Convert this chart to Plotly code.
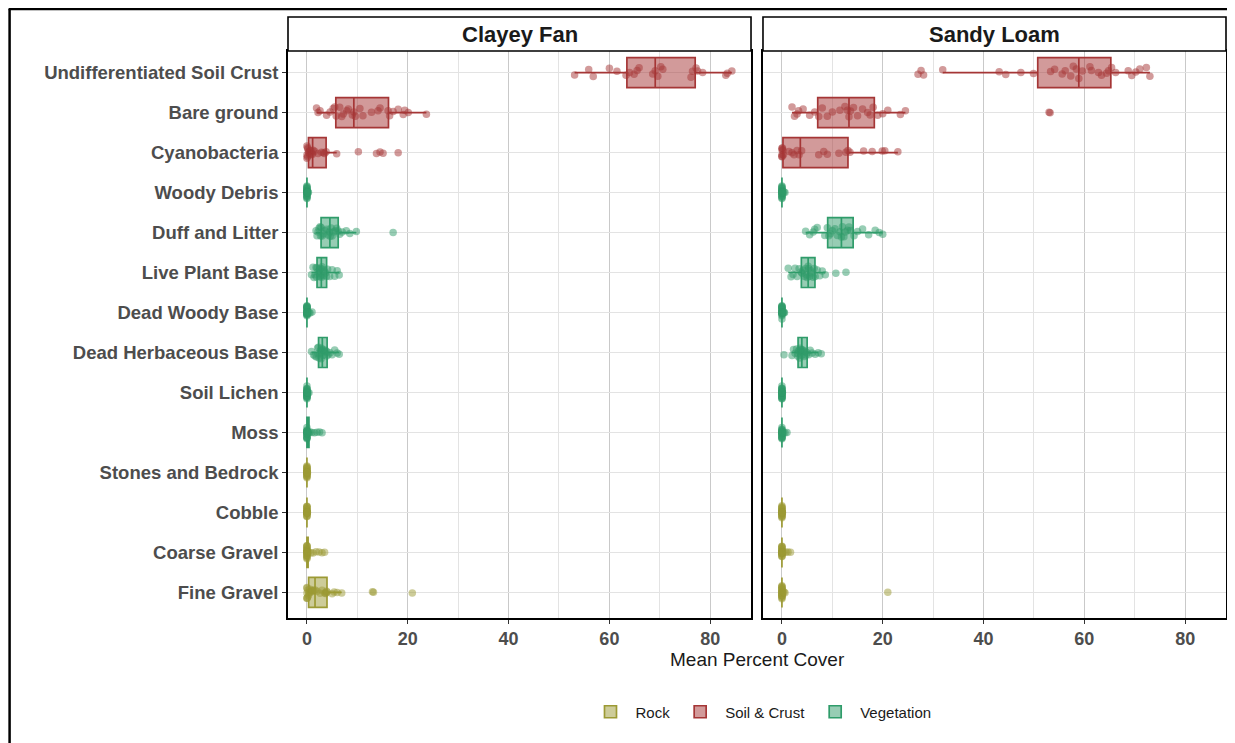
import plotly.graph_objects as go
from plotly.subplots import make_subplots

# ---------------- data ----------------
categories = [
    "Undifferentiated Soil Crust", "Bare ground", "Cyanobacteria", "Woody Debris",
    "Duff and Litter", "Live Plant Base", "Dead Woody Base", "Dead Herbaceous Base",
    "Soil Lichen", "Moss", "Stones and Bedrock", "Cobble", "Coarse Gravel", "Fine Gravel",
]
panels = ["Clayey Fan", "Sandy Loam"]
groups = ["Rock", "Soil & Crust", "Vegetation"]
category_group = {
    "Undifferentiated Soil Crust": "Soil & Crust", "Bare ground": "Soil & Crust",
    "Cyanobacteria": "Soil & Crust", "Woody Debris": "Vegetation",
    "Duff and Litter": "Vegetation", "Live Plant Base": "Vegetation",
    "Dead Woody Base": "Vegetation", "Dead Herbaceous Base": "Vegetation",
    "Soil Lichen": "Vegetation", "Moss": "Vegetation",
    "Stones and Bedrock": "Rock", "Cobble": "Rock", "Coarse Gravel": "Rock",
    "Fine Gravel": "Rock",
}

clayey_fan = {
    "Undifferentiated Soil Crust": [53.1, 55.9, 56.8, 60.0, 61.5, 63.3, 64.0, 64.9, 65.5, 65.9, 68.6, 69.1,
                                    69.6, 70.2, 70.6, 76.2, 76.5, 77.2, 77.5, 78.5, 83.1, 83.4, 84.3],
    "Bare ground": [1.9, 2.2, 2.6, 3.9, 4.6, 5.2, 5.5, 5.8, 6.5, 6.9, 7.2, 7.9, 8.2, 9.0, 9.3, 9.6,
                    10.5, 11.1, 12.8, 14.1, 14.5, 16.1, 16.4, 17.1, 18.1, 19.1, 19.4, 20.1, 23.7],
    "Cyanobacteria": [0, 0, 0, 0.1, 0.1, 0.2, 0.3, 0.4, 0.5, 0.6, 0.8, 1.0, 1.05, 1.2, 1.5, 2.2, 2.9,
                      3.3, 3.5, 3.8, 5.9, 10.2, 13.8, 14.5, 15.1, 18.1],
    "Woody Debris": [0] * 22 + [0.1, 0.2, 0.3],
    "Duff and Litter": [1.8, 2.0, 2.2, 2.4, 2.6, 2.7, 2.8, 3.0, 3.3, 3.6, 3.9, 4.2, 4.5, 4.6, 4.8, 5.0,
                        5.3, 5.6, 5.9, 6.2, 6.5, 7.0, 7.8, 8.5, 9.8, 17.1],
    "Live Plant Base": [0.9, 1.2, 1.4, 1.6, 1.8, 1.9, 2.0, 2.2, 2.4, 2.5, 2.6, 2.7, 2.8, 2.9, 3.0, 3.1,
                        3.3, 3.5, 3.7, 3.9, 4.1, 4.5, 5.0, 5.5, 6.0, 6.4],
    "Dead Woody Base": [0] * 20 + [0.2, 0.4, 0.6, 1.0],
    "Dead Herbaceous Base": [0.9, 1.3, 1.6, 1.9, 2.1, 2.2, 2.3, 2.4, 2.6, 2.7, 2.8, 2.9, 3.0, 3.1, 3.2,
                             3.3, 3.5, 3.7, 3.9, 4.0, 4.2, 4.6, 5.0, 5.5, 6.0, 6.4],
    "Soil Lichen": [0] * 22 + [0.2, 0.4],
    "Moss": [0] * 18 + [0.2, 0.4, 0.6, 1.0, 1.5, 2.0, 2.5, 3.0],
    "Stones and Bedrock": [0] * 20 + [0.1],
    "Cobble": [0] * 20 + [0.1],
    "Coarse Gravel": [0] * 20 + [0.3, 0.8, 1.2, 1.8, 2.4, 3.0, 3.5],
    "Fine Gravel": [0, 0, 0, 0, 0, 0.1, 0.2, 0.3, 0.4, 0.5, 0.6, 0.8, 1.0, 1.1, 1.3, 1.6, 2.0, 2.6, 3.0,
                    3.5, 3.7, 3.8, 3.9, 4.0, 5.0, 5.4, 6.0, 6.9, 13.0, 13.2, 20.9],
}

sandy_loam = {
    "Undifferentiated Soil Crust": [27.0, 27.6, 28.1, 31.9, 43.1, 44.4, 47.4, 49.9, 53.3, 54.1, 55.6, 56.2,
                                    57.3, 57.8, 58.4, 58.9, 59.6, 61.1, 61.4, 62.8, 63.4, 64.4, 64.8, 65.4,
                                    66.2, 68.7, 69.4, 70.2, 71.0, 72.3, 73.0],
    "Bare ground": [2.0, 2.5, 3.0, 3.3, 4.2, 5.5, 6.5, 7.3, 8.0, 9.0, 10.0, 11.5, 12.5, 13.0, 13.3, 13.6,
                    14.2, 15.0, 16.0, 17.0, 17.5, 18.1, 19.0, 20.0, 21.0, 23.5, 24.5, 53.0, 53.2],
    "Cyanobacteria": [0, 0, 0, 0, 0, 0.1, 0.2, 0.3, 1.4, 2.0, 2.4, 3.0, 3.4, 3.9, 7.3, 8.3, 9.0, 11.3,
                      12.7, 13.1, 13.5, 16.2, 17.9, 19.9, 20.4, 23.0],
    "Woody Debris": [0] * 22 + [0.2, 0.4, 0.6],
    "Duff and Litter": [4.7, 5.5, 6.2, 6.5, 7.0, 8.5, 9.0, 9.3, 9.6, 10.0, 10.5, 11.0, 11.5, 11.8, 12.0,
                        12.3, 12.6, 13.0, 13.3, 13.6, 14.3, 15.0, 16.0, 17.2, 18.5, 19.3, 20.0],
    "Live Plant Base": [1.25, 1.8, 2.2, 2.6, 3.0, 3.4, 3.8, 4.0, 4.2, 4.5, 4.7, 4.9, 5.0, 5.2, 5.3, 5.5,
                        5.7, 5.9, 6.2, 6.4, 6.6, 7.0, 7.5, 8.0, 8.6, 10.7, 12.7],
    "Dead Woody Base": [0] * 20 + [0.2, 0.3, 0.4, 0.5],
    "Dead Herbaceous Base": [0.4, 2.0, 2.3, 2.6, 2.9, 3.1, 3.2, 3.3, 3.5, 3.6, 3.7, 3.8, 3.9, 4.0, 4.1,
                             4.2, 4.4, 4.6, 4.8, 5.0, 5.3, 5.6, 6.0, 6.6, 7.2, 7.8],
    "Soil Lichen": [0] * 22 + [0.1],
    "Moss": [0] * 20 + [0.3, 0.6, 1.0],
    "Stones and Bedrock": [],
    "Cobble": [0] * 20 + [0.1],
    "Coarse Gravel": [0] * 20 + [0.3, 0.8, 1.2, 1.7],
    "Fine Gravel": [0] * 20 + [0.2, 0.4, 0.6, 21.0],
}
panel_data = {"Clayey Fan": clayey_fan, "Sandy Loam": sandy_loam}

group_color = {"Rock": "#9c9a34", "Soil & Crust": "#a53636", "Vegetation": "#2f9c6a"}
group_fill = {"Rock": "rgba(156,154,52,0.5)", "Soil & Crust": "rgba(165,54,54,0.5)",
              "Vegetation": "rgba(47,156,106,0.5)"}

# ---------------- figure ----------------
OFF = 8  # page body margin of the exported html
W, H = 1235 - OFF, 743 - OFF
PLOT_L, PLOT_R, PLOT_T, PLOT_B = 288, 1228, 51, 618  # screen pixels of the plotting region
L, T = PLOT_L - OFF, PLOT_T - OFF
R = W - (PLOT_R - OFF)
B = H - (PLOT_B - OFF)
pw = W - L - R
ph = H - T - B

fig = make_subplots(rows=1, cols=2, shared_yaxes=True, horizontal_spacing=12 / pw)

for pi, panel in enumerate(panels):
    data = panel_data[panel]
    for g in groups:
        xs, ys = [], []
        for c in categories:
            if category_group[c] == g:
                xs += data[c]
                ys += [c] * len(data[c])
        fig.add_trace(go.Box(
            x=xs, y=ys, orientation="h", name=g, legendgroup=g, showlegend=(pi == 0),
            boxpoints="all", jitter=0.45, pointpos=0, width=0.75, whiskerwidth=0,
            line=dict(color=group_color[g], width=1.7), fillcolor=group_fill[g],
            marker=dict(color=group_color[g], size=7.5, opacity=0.5),
            quartilemethod="linear",
        ), row=1, col=pi + 1)

font_fam = "Liberation Sans, Arial, sans-serif"
xaxis_style = dict(
    range=[-3.76, 88.1], tickmode="array", tickvals=[0, 20, 40, 60, 80],
    showgrid=True, gridcolor="#c9c9c9", gridwidth=1.3, zeroline=False,
    minor=dict(tickmode="array", tickvals=[10, 30, 50, 70], showgrid=True,
               gridcolor="#e3e3e3", gridwidth=1.1, ticks=""),
    showline=True, linecolor="black", linewidth=1.6, mirror=True,
    ticks="outside", ticklen=4, tickcolor="#333333", tickwidth=1.2,
    tickfont=dict(family=font_fam, size=18, color="#4d4d4d", weight="bold"),
)
fig.update_xaxes(**xaxis_style)
fig.update_yaxes(
    type="category", categoryorder="array", categoryarray=categories,
    range=[13.64, -0.54], showgrid=True, gridcolor="#e3e3e3", gridwidth=1.1,
    showline=True, linecolor="black", linewidth=1.6, mirror=True, zeroline=False,
)
fig.update_yaxes(ticks="outside", ticklen=4, tickcolor="#333333", tickwidth=1.2,
                 tickfont=dict(family=font_fam, size=18.5, color="#4d4d4d", weight="bold"),
                 row=1, col=1)
fig.update_yaxes(showticklabels=False, ticks="", row=1, col=2)

# facet strips
strip_h = 34 / ph
for i, panel in enumerate(panels):
    xr = "x domain" if i == 0 else "x2 domain"
    yr = "y domain" if i == 0 else "y2 domain"
    fig.add_shape(type="rect", xref=xr, yref=yr, x0=0, x1=1, y0=1, y1=1 + strip_h,
                  line=dict(color="black", width=1.6), fillcolor="white", layer="above")
    fig.add_annotation(xref=xr, yref=yr, x=0.5, y=1 + strip_h / 2, text="<b>%s</b>" % panel,
                       showarrow=False, font=dict(family=font_fam, size=22, color="#1a1a1a"),
                       xanchor="center", yanchor="middle")

# helpers: screen pixel -> paper coordinates
px = lambda v: (v - PLOT_L) / pw
py = lambda v: (PLOT_B - v) / ph

# axis title
fig.add_annotation(xref="paper", yref="paper", x=px(758), y=py(659), text="Mean Percent Cover",
                   showarrow=False, font=dict(family=font_fam, size=19, color="#1a1a1a"),
                   xanchor="center", yanchor="middle")

# outer border lines
fig.add_shape(type="line", xref="paper", yref="paper", x0=px(9), x1=px(9), y0=py(9), y1=py(750),
              line=dict(color="black", width=2.5))
fig.add_shape(type="line", xref="paper", yref="paper", x0=px(8), x1=px(1245), y0=py(9), y1=py(9),
              line=dict(color="black", width=2.5))

fig.update_layout(
    width=W, height=H, margin=dict(l=L, r=R, t=T, b=B),
    paper_bgcolor="white", plot_bgcolor="white", boxmode="overlay",
    font=dict(family=font_fam),
    legend=dict(orientation="h", x=px(762), xanchor="center", y=py(712), yanchor="middle",
                font=dict(family=font_fam, size=15, color="#1a1a1a"), itemwidth=40),
)

fig.write_html("out.html")
